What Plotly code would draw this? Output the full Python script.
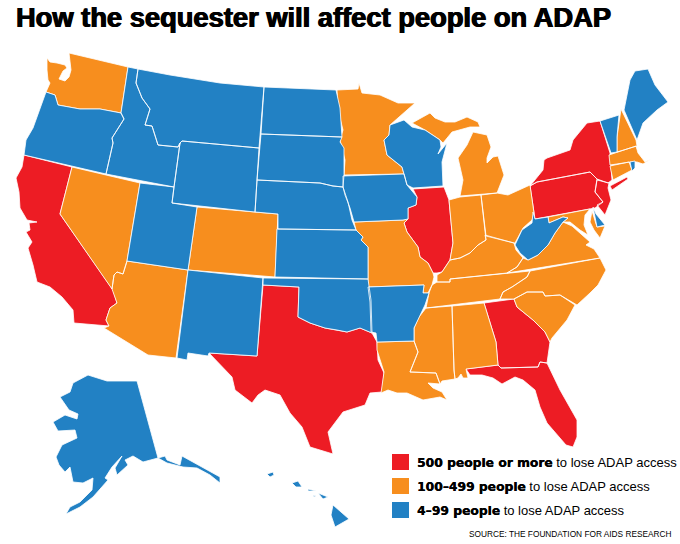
import plotly.graph_objects as go

TITLE = "How the sequester will affect people on ADAP"
SOURCE = "SOURCE: THE FOUNDATION FOR AIDS RESEARCH"
COLORS = ["#ed1c24", "#f78e1e", "#2281c4"]
LEGEND_BOLD = ["500 people or more", "100–499 people", "4–99 people"]
LEGEND_REST = " to lose ADAP access"

# State outlines (plot units)
WA = [(47,58),(50,62),(57,63),(65,65),(67,68),(63,71),(59,79),(65,81),(69,77),(71,70),(69,53),(128,67),(121,113),(100,109),(80,109),(68,107),(58,105),(55,95),(46,92),(50,83),(48,80),(47,70)]
OR = [(46,92),(55,95),(58,105),(68,107),(80,109),(100,109),(121,113),(124,119),(112,138),(113,143),(106,174),(24,155),(26,140),(33,128),(40,108)]
ID = [(128,67),(138,69),(136,83),(142,98),(150,109),(145,125),(152,126),(158,145),(178,147),(180,143),(174,187),(106,174),(113,143),(112,138),(124,119),(121,113)]
MT = [(138,69),(170,75),(220,83),(264,87),(259,148),(182,141),(180,143),(178,147),(158,145),(152,126),(145,125),(150,109),(142,98),(136,83)]
WY = [(182,141),(259,148),(255,212),(172,203),(174,187),(180,143)]
UT = [(140,183),(174,187),(172,203),(197,207),(188,270),(127,261)]
NV = [(72,167),(140,183),(127,261),(123,274),(117,272),(114,275),(112,289),(60,214)]
CA = [(24,155),(72,167),(60,214),(112,289),(113,290),(117,303),(110,308),(106,320),(109,326),(74,323),(73,310),(62,297),(50,287),(37,282),(33,265),(28,248),(32,242),(26,232),(30,230),(29,223),(37,222),(27,220),(20,208),(19,192),(16,178),(22,167)]
AZ = [(127,261),(188,270),(176,358),(148,355),(104,328),(109,326),(106,320),(110,308),(117,303),(112,289),(114,275),(117,272),(123,274)]
NM = [(188,270),(263,278),(257,356),(209,353),(208,356),(188,353),(187,360),(177,358)]
CO = [(197,207),(255,212),(278,214),(275,277),(188,270)]
ND = [(264,87),(336,90),(340,108),(342,137),(261,134)]
SD = [(261,134),(342,137),(340,142),(344,148),(344,175),(343,187),(333,186),(320,183),(257,180)]
NE = [(257,180),(320,183),(333,186),(343,187),(348,202),(352,220),(356,230),(278,229),(278,214),(255,212)]
KS = [(277,229),(356,230),(363,237),(361,240),(368,247),(368,279),(275,277)]
OK = [(263,278),(368,279),(371,300),(372,333),(360,328),(347,332),(337,330),(325,328),(310,323),(298,317),(299,287),(263,285)]
TX = [(263,285),(299,287),(298,317),(310,323),(325,328),(337,330),(347,332),(360,328),(372,333),(377,342),(378,360),(384,373),(382,392),(370,393),(365,405),(343,412),(332,427),(328,432),(333,454),(310,447),(302,427),(290,413),(280,395),(265,390),(258,395),(252,403),(235,390),(232,377),(209,353),(257,356)]
IA = [(343,176),(404,174),(407,185),(417,197),(416,205),(408,208),(408,219),(403,220),(354,222),(350,208),(345,195),(343,187)]
MN = [(337,90),(358,89),(359,83),(362,93),(380,95),(398,103),(415,103),(390,125),(389,135),(384,140),(387,155),(402,167),(404,174),(344,175),(345,160),(340,140),(343,130),(338,110)]
WI = [(390,125),(404,120),(412,127),(425,130),(440,140),(441,147),(438,154),(447,143),(442,162),(443,186),(413,188),(407,185),(404,174),(402,167),(387,155),(384,140),(389,135)]
IL = [(413,189),(444,187),(449,200),(453,243),(450,260),(442,272),(437,273),(433,273),(428,263),(420,257),(418,247),(407,232),(404,223),(408,219),(408,208),(416,205),(417,197)]
MO = [(354,222),(403,220),(408,219),(404,223),(407,232),(418,247),(420,257),(428,263),(433,273),(434,277),(432,285),(428,293),(423,293),(424,285),(368,287),(368,247),(361,240),(363,237),(356,230)]
AR = [(368,287),(424,285),(423,293),(429,293),(425,305),(419,317),(414,328),(414,341),(377,342),(376,333),(371,332),(370,302)]
LA = [(377,342),(414,341),(418,352),(410,372),(436,373),(440,384),(428,383),(433,388),(442,392),(447,400),(440,397),(423,400),(407,393),(397,393),(388,390),(381,393),(384,372),(381,362),(377,350)]
MS = [(426,308),(452,306),(454,370),(455,379),(442,381),(440,384),(436,373),(410,372),(418,352),(414,341),(414,328),(419,317)]
AL = [(452,306),(484,303),(496,342),(498,365),(466,369),(468,378),(463,378),(461,374),(458,378),(455,379),(454,370)]
GA = [(484,303),(514,299),(517,307),(533,320),(545,332),(550,342),(547,363),(540,362),(538,367),(501,368),(498,365),(496,342)]
FL = [(466,369),(498,365),(501,368),(538,367),(540,362),(547,363),(560,390),(577,420),(577,437),(573,447),(566,445),(557,435),(547,423),(540,407),(535,390),(523,380),(515,377),(502,384),(493,378),(482,375),(470,375)]
TN = [(437,282),(450,282),(450,279),(505,274),(530,271),(527,277),(512,287),(503,292),(500,299),(426,308),(429,293),(432,285)]
KY = [(437,275),(442,272),(450,260),(460,258),(470,253),(478,245),(486,240),(485,235),(503,240),(514,243),(516,250),(523,258),(517,267),(507,273),(450,279),(450,282),(437,282)]
IN = [(449,200),(460,197),(481,195),(486,236),(486,240),(478,245),(470,253),(460,258),(450,260),(453,243)]
OH = [(481,195),(497,193),(508,195),(530,185),(534,213),(532,220),(523,228),(515,243),(514,243),(503,240),(486,236)]
MI_LOWER = [(460,196),(497,193),(504,175),(498,156),(493,157),(487,163),(487,158),(491,147),(487,135),(473,132),(467,145),(458,158),(463,180)]
MI_UPPER = [(412,123),(430,113),(435,118),(445,122),(455,122),(467,117),(478,122),(480,127),(470,127),(452,132),(443,143),(440,140),(425,130)]
WV = [(533,212),(535,219),(548,217),(549,223),(563,217),(568,218),(563,222),(555,233),(548,245),(538,255),(528,260),(520,253),(515,245),(522,230),(532,223)]
PA = [(530,186),(537,182),(590,172),(597,179),(595,192),(603,202),(595,208),(535,219)]
NY = [(547,158),(570,150),(573,140),(587,123),(600,121),(610,153),(612,180),(608,183),(597,179),(590,172),(537,182),(530,186),(543,170),(544,160)]
NY_LI = [(610,186),(627,177),(628,179),(612,190)]
NJ = [(597,180),(609,183),(608,188),(611,200),(605,215),(597,205),(603,202),(595,192)]
VT = [(600,121),(619,115),(617,137),(617,152),(611,153)]
NH = [(621,109),(636,140),(637,146),(617,152),(617,137)]
ME = [(624,110),(630,80),(635,71),(648,69),(655,85),(668,102),(657,110),(643,123),(637,140)]
MA = [(609,155),(636,146),(638,153),(645,162),(651,159),(643,164),(637,162),(630,162),(610,165)]
CT = [(610,166),(629,162),(632,170),(613,180)]
RI = [(630,162),(635,161),(635,168),(632,171)]
DE = [(593,207),(596,214),(605,225),(597,227)]
MD_WEST = [(548,217),(590,209),(585,215),(584,225),(588,235),(580,230),(570,222),(563,222),(568,218),(563,217),(549,223)]
MD_EAST = [(592,211),(597,227),(605,226),(600,238),(594,230),(590,222)]
VA = [(507,273),(517,267),(523,258),(528,260),(538,255),(548,245),(555,233),(563,222),(572,226),(580,233),(590,242),(586,245),(594,249),(596,252),(600,258)]
NC = [(530,271),(600,258),(606,270),(598,285),(590,293),(577,305),(560,295),(545,296),(543,292),(527,292),(514,299),(500,299),(503,292),(512,287),(527,277)]
SC = [(514,299),(527,292),(543,292),(545,296),(560,295),(575,305),(567,320),(552,338),(550,342),(545,332),(533,320),(517,307)]
AK = [(137,381),(158,458),(165,456),(167,460),(180,465),(182,456),(220,477),(220,483),(210,475),(197,468),(183,467),(167,463),(158,458),(143,462),(133,456),(125,460),(128,465),(117,475),(115,468),(122,456),(112,467),(105,478),(108,480),(93,497),(80,507),(68,513),(66,514),(70,507),(80,502),(92,490),(93,478),(83,483),(73,482),(70,467),(65,472),(59,465),(56,457),(62,445),(77,438),(75,430),(58,431),(53,422),(65,415),(77,419),(78,414),(69,410),(60,397),(70,392),(73,383),(88,375),(107,381)]
HI_BIG = [(333,505),(349,519),(335,527),(331,515)]
HI_MAUI = [(318,493),(328,497),(323,499)]
HI_OAHU = [(292,483),(298,481),(302,487),(296,487)]
HI_KAUAI = [(267,474),(273,472),(274,475),(270,477)]
HI_MOLOKAI = [(308,489),(316,491),(308,491)]
HI_LANAI = [(313,495),(316,496),(314,497)]

GROUP_500 = [CA, TX, IL, GA, FL, NY, NY_LI, PA, NJ]
GROUP_100 = [WA, NV, AZ, CO, MN, MO, LA, MS, AL, TN, KY, IN, OH, MI_LOWER, MI_UPPER, VA, NC, SC, NH, MA, CT, MD_WEST, MD_EAST]
GROUP_4 = [OR, ID, MT, WY, ND, SD, NE, KS, UT, NM, OK, AR, IA, WI, WV, VT, ME, RI, DE, AK, HI_BIG, HI_MAUI, HI_OAHU, HI_KAUAI, HI_MOLOKAI, HI_LANAI]


def flatten(shapes):
    xs, ys = [], []
    for shape in shapes:
        closed = shape + shape[:1]
        xs += [p[0] for p in closed] + [None]
        ys += [p[1] for p in closed] + [None]
    return xs, ys


fig = go.Figure()
for shapes, color in zip([GROUP_500, GROUP_100, GROUP_4], COLORS):
    xs, ys = flatten(shapes)
    fig.add_trace(go.Scatter(x=xs, y=ys, mode="lines", fill="toself", fillcolor=color,
                             line=dict(color="white", width=0.8), hoverinfo="skip", showlegend=False))

for i, (color, bold) in enumerate(zip(COLORS, LEGEND_BOLD)):
    top = 454 + 24 * i
    fig.add_shape(type="rect", xref="x", yref="y", x0=392, x1=409, y0=top, y1=top + 16,
                  fillcolor=color, line_width=0)
    fig.add_annotation(
        text=f'<span style="font-family:\'DejaVu Sans\';font-size:12.3px;text-shadow:0.3px 0 0 black"><b>{bold}</b></span>{LEGEND_REST}',
        x=415, y=top + 8, xref="x", yref="y", xanchor="left", yanchor="middle", showarrow=False,
        font=dict(family="Liberation Sans", size=13, color="black"))

fig.update_xaxes(range=[0, 680], visible=False, fixedrange=True)
fig.update_yaxes(range=[544, 0], visible=False, fixedrange=True)
fig.update_layout(
    width=680, height=544, margin=dict(l=0, r=0, t=0, b=0, autoexpand=False),
    paper_bgcolor="white", plot_bgcolor="white", showlegend=False,
)
fig.add_annotation(text=f"<b>{TITLE}</b>", x=14 / 680, y=1 - 17 / 544, xref="paper", yref="paper",
                   xanchor="left", yanchor="middle", showarrow=False,
                   font=dict(family="Liberation Sans", size=27.3, color="black",
                             shadow="0.6px 0 0 black, -0.6px 0 0 black"))
fig.add_annotation(text=SOURCE, x=674 / 680, y=1 - 534 / 544, xref="paper", yref="paper",
                   xanchor="right", yanchor="middle", showarrow=False,
                   font=dict(family="Liberation Sans", size=8.3, color="black"))
fig.write_html("out.html", config=dict(displayModeBar=False),
               post_script="document.body.style.margin='0';")
